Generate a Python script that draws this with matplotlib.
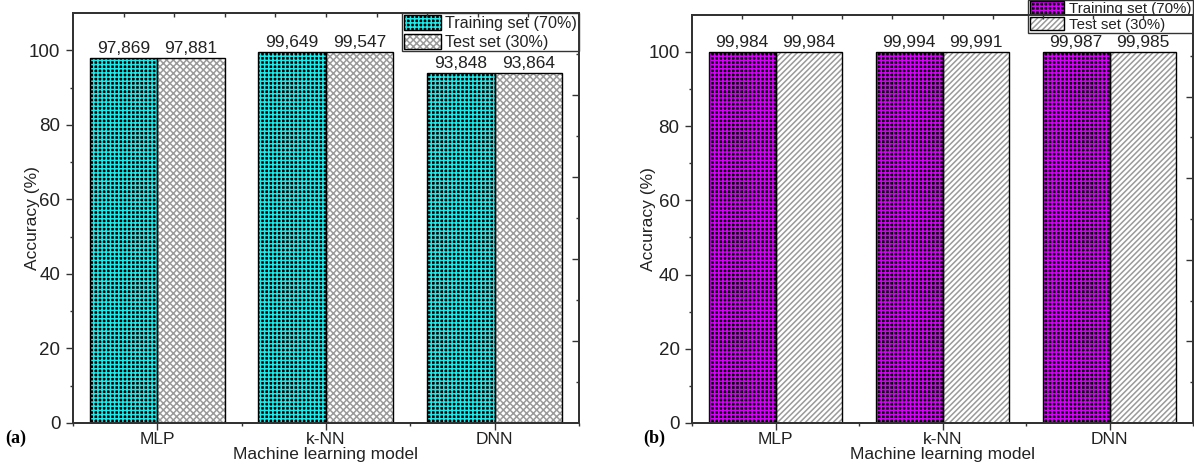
import numpy as np
import matplotlib
matplotlib.use("Agg")
import matplotlib.pyplot as plt
from matplotlib.patches import Patch

plt.rcParams['font.family'] = ['Liberation Sans', 'DejaVu Sans']
plt.rcParams['hatch.linewidth'] = 1.1

models = ["MLP", "k-NN", "DNN"]
series_names = ["Training set (70%)", "Test set (30%)"]
train_a = [97.869, 99.649, 93.848]
test_a = [97.881, 99.547, 93.864]
train_b = [99.984, 99.994, 99.987]
test_b = [99.984, 99.991, 99.985]
y_ticks = [0, 20, 40, 60, 80, 100]

CYAN = "#1ee8e8"
MAGENTA = "#d400f8"
TXT = "#222222"
SPINE = "#333333"


def fmt(v):
    return f"{v:.3f}".replace(".", ",")


def panel(ax, train, test, color, test_hatch, legend_anchor, leg_fs,
          leg_hh, leg_ls):
    x = np.arange(1, len(models) + 1)
    w = 0.4
    ax.bar(x - w / 2, train, w, color="black", edgecolor=color,
           hatch="++++", linewidth=0, zorder=2)
    o1 = ax.bar(x - w / 2, train, w, fill=False, edgecolor="black",
                linewidth=1.0, zorder=3)
    ax.bar(x + w / 2, test, w, color="white", edgecolor="#9a9a9a",
           hatch=test_hatch, linewidth=0, zorder=2)
    o2 = ax.bar(x + w / 2, test, w, fill=False, edgecolor="black",
                linewidth=1.0, zorder=3)
    ax.bar_label(o1, labels=[fmt(v) for v in train], padding=1.5,
                 fontsize=12.5, color=TXT)
    ax.bar_label(o2, labels=[fmt(v) for v in test], padding=1.5,
                 fontsize=12.5, color=TXT)

    ax.set_xlim(0.5, 3.5)
    ax.set_ylim(0, 110)
    ax.set_xticks(x, models)
    ax.set_xticks([0.5, 1.5, 2.5, 3.5], minor=True)
    ax.set_yticks(y_ticks)
    ax.set_yticks([10, 30, 50, 70, 90], minor=True)
    ax.tick_params(axis="x", which="major", direction="out", length=5,
                   width=1, pad=1.5, labelsize=12.5, colors=SPINE,
                   labelcolor=TXT)
    ax.tick_params(axis="x", which="minor", direction="out", length=2.5,
                   width=1, colors=SPINE)
    ax.tick_params(axis="y", which="major", direction="out", length=5,
                   width=1, pad=4, labelsize=13.5, colors=SPINE,
                   labelcolor=TXT)
    ax.tick_params(axis="y", which="minor", direction="out", length=2.5,
                   width=1, colors=SPINE)
    for s in ax.spines.values():
        s.set_linewidth(1.2)
        s.set_color(SPINE)

    ax.set_xlabel("Machine learning model", fontsize=12.5, color=TXT,
                  labelpad=0)
    ax.set_ylabel("Accuracy (%)", fontsize=12.5, color=TXT)

    # right-side ticks (inward)
    axr = ax.twinx()
    axr.set_ylim(0, 110)
    axr.set_yticks([22, 44, 66, 88], labels=[])
    axr.set_yticks([11, 33, 55, 77, 99], minor=True)
    axr.tick_params(axis="y", which="major", direction="in", length=5,
                    width=1, colors=SPINE)
    axr.tick_params(axis="y", which="minor", direction="in", length=2.5,
                    width=1, colors=SPINE)
    # top ticks (inward)
    axt = ax.twiny()
    axt.set_xlim(0.5, 3.5)
    axt.set_xticks([0.5 + 0.3 * k for k in range(1, 10)], labels=[])
    axt.tick_params(axis="x", which="major", direction="in", length=3,
                    width=1, colors=SPINE)
    for a in (axr, axt):
        for s in a.spines.values():
            s.set_linewidth(1.2)
            s.set_color(SPINE)

    h1 = (Patch(facecolor="black", edgecolor=color, hatch="++++", linewidth=0),
          Patch(fill=False, edgecolor="black", linewidth=1.0))
    h2 = (Patch(facecolor="white", edgecolor="#9a9a9a", hatch=test_hatch,
                linewidth=0),
          Patch(fill=False, edgecolor="black", linewidth=1.0))
    leg = ax.legend(handles=[h1, h2], labels=series_names, loc="upper right",
                    bbox_to_anchor=legend_anchor, borderaxespad=0,
                    fancybox=False, framealpha=1, edgecolor=SPINE,
                    handlelength=2.3, handleheight=leg_hh,
                    labelspacing=leg_ls, borderpad=0.1, handletextpad=0.3,
                    fontsize=leg_fs)
    leg.get_frame().set_linewidth(1.0)
    for t in leg.get_texts():
        t.set_color(TXT)
    leg.set_zorder(5)
    return ax


fig = plt.figure(figsize=(11.94, 4.68), dpi=100)
ax1 = fig.add_axes([0.0611, 0.0962, 0.4238, 0.876])
ax2 = fig.add_axes([0.5796, 0.0962, 0.4196, 0.872])

panel(ax1, train_a, test_a, CYAN, "xxxxx", (1.0, 1.0), 11.6, 1.05, 0.2)
panel(ax2, train_b, test_b, MAGENTA, "//////", (0.999, 1.037), 10.8, 0.95,
      0.08)

ax1.yaxis.set_label_coords(-0.066, 0.5)
ax2.yaxis.set_label_coords(-0.072, 0.5)

fig.text(0.004, 0.064, "(a)", fontsize=13, fontweight="bold",
         family="Liberation Serif", va="center", ha="left")
fig.text(0.539, 0.064, "(b)", fontsize=13, fontweight="bold",
         family="Liberation Serif", va="center", ha="left")

fig.savefig("out.png", dpi=100)
